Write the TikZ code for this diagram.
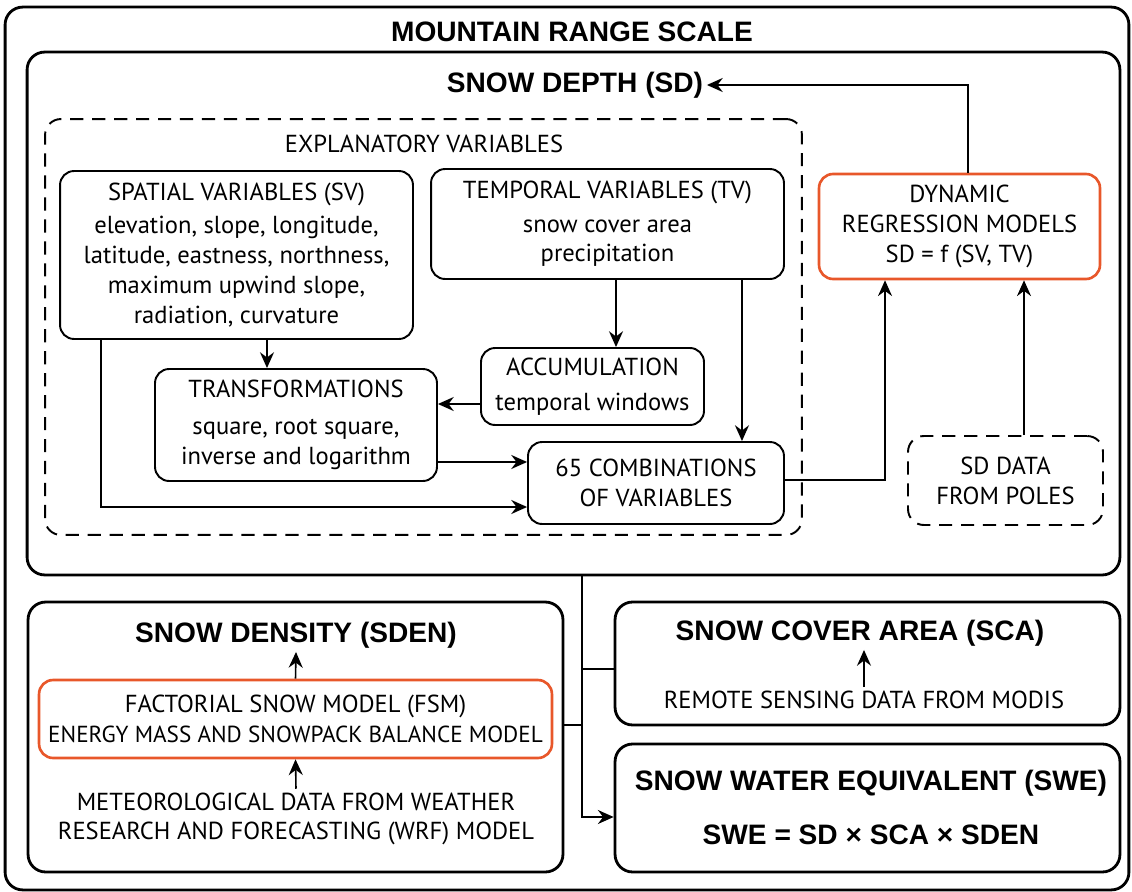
\documentclass[tikz,border=0pt]{standalone}
\usepackage{fontspec}
\setmainfont{PT Sans}
\newfontfamily\headfont{Liberation Sans}
\usetikzlibrary{arrows.meta, positioning, calc}
\definecolor{modelorange}{HTML}{E8572A}

\begin{document}
\begin{tikzpicture}[
  x=0.02cm, y=-0.02cm,
  every node/.style={font=\fontsize{14}{17}\selectfont, align=center, inner sep=2pt},
  frame/.style={draw, rounded corners=10pt, line width=1.6pt},
  varbox/.style={draw, rounded corners=8pt, line width=1.1pt},
  modelbox/.style={draw=modelorange, rounded corners=8pt, line width=1.5pt},
  databox/.style={draw, dash pattern=on 7.5pt off 5pt, rounded corners=9pt, line width=1.1pt},
  head/.style={font=\headfont\bfseries\fontsize{16}{19}\selectfont},
  arr/.style={-{Stealth[length=9pt, width=8pt, inset=3pt]}, line width=0.9pt},
  link/.style={line width=0.9pt},
]
\useasboundingbox (0,0) rectangle (1132,892);

% Frames and titles
\node[frame, minimum width=22.48cm, minimum height=17.66cm] (range) at (567, 448.5) {};
\node[head] (rangetitle) at (572, 32) {MOUNTAIN RANGE SCALE};
\node[frame, minimum width=21.86cm, minimum height=10.46cm] (sdbox) at (573.5, 313.5) {};
\node[head] (sdtitle) at (575, 85) {SNOW DEPTH (SD)};
\node[databox, minimum width=15.14cm, minimum height=8.32cm] (expl) at (423.5, 327) {};
\node (expltitle) at (424, 144) {EXPLANATORY VARIABLES};

% Snow depth
\node[varbox, minimum width=7.06cm, minimum height=3.36cm] (sv) at (236.5, 255) {SPATIAL VARIABLES (SV)\\[2pt] elevation, slope, longitude,\\ latitude, eastness, northness,\\ maximum upwind slope,\\ radiation, curvature};
\node[varbox, minimum width=7.06cm, minimum height=2.2cm] (tv) at (607.5, 224) {TEMPORAL VARIABLES (TV)\\[2pt] snow cover area\\ precipitation};
\node[varbox, minimum width=4.46cm, minimum height=1.54cm] (acc) at (592.5, 386.5) {ACCUMULATION\\[3pt] temporal windows};
\node[varbox, minimum width=5.64cm, minimum height=2.24cm] (trans) at (296, 425) {TRANSFORMATIONS\\[4pt] square, root square,\\ inverse and logarithm};
\node[varbox, minimum width=5.12cm, minimum height=1.64cm] (comb) at (656, 483) {65 COMBINATIONS\\ OF VARIABLES};
\node[modelbox, minimum width=5.62cm, minimum height=2.1cm] (dyn) at (959.5, 226.5) {DYNAMIC\\ REGRESSION MODELS\\ SD = f (SV, TV)};
\node[databox, minimum width=3.9cm, minimum height=1.78cm] (sddata) at (1005.5, 480.5) {SD DATA\\ FROM POLES};

\draw[arr] ([xshift=0.61cm]sv.south) -- ([xshift=0.61cm]sv.south |- trans.north);
\draw[arr] ([xshift=0.17cm]tv.south) -- ([xshift=0.17cm]tv.south |- acc.north);
\draw[arr] ([xshift=2.69cm]tv.south) -- ([xshift=2.69cm]tv.south |- comb.north);
\draw[arr] ([yshift=-0.35cm]acc.west) -- ([yshift=-0.35cm]acc.west -| trans.east);
\draw[arr] ([yshift=-0.74cm]trans.east) -- ([yshift=-0.74cm]trans.east -| comb.west);
\draw[arr] ([xshift=-2.71cm]sv.south) |- ([yshift=-0.48cm]comb.west);
\draw[arr] ([yshift=0.06cm]comb.east) -| ([xshift=-1.49cm]dyn.south);
\draw[arr] ([xshift=0.37cm]sddata.north) -- ([xshift=0.37cm]sddata.north |- dyn.south);
\draw[arr] ([xshift=0.17cm]dyn.north) |- (sdtitle.east);

% Snow density
\node[frame, minimum width=10.7cm, minimum height=5.4cm] (sden) at (295.5, 737) {};
\node[head] (sdentitle) at (296, 635) {SNOW DENSITY (SDEN)};
\node[modelbox, minimum width=10.26cm, minimum height=1.56cm] (fsm) at (295.5, 719) {FACTORIAL SNOW MODEL (FSM)\\ {\fontsize{13.2}{16}\selectfont ENERGY MASS AND SNOWPACK BALANCE MODEL}};
\node (wrf) at (296, 819) {METEOROLOGICAL DATA FROM WEATHER\\ RESEARCH AND FORECASTING (WRF) MODEL};
\draw[arr] (fsm.north) -- (sdentitle.south);
\draw[arr] (wrf.north) -- (fsm.south);

% Snow cover area
\node[frame, minimum width=10.1cm, minimum height=2.46cm] (sca) at (867.5, 663.5) {};
\node[head] (scatitle) at (860, 633) {SNOW COVER AREA (SCA)};
\node (modis) at (864, 700) {REMOTE SENSING DATA FROM MODIS};
\draw[arr] (modis.north) -- (modis.north |- scatitle.south);

% Snow water equivalent
\node[frame, minimum width=10.1cm, minimum height=2.56cm] (swe) at (867.5, 808) {};
\node[head] (swetitle) at (871, 783) {SNOW WATER EQUIVALENT (SWE)};
\node[head] (formula) at (871, 835) {SWE = SD × SCA × SDEN};

% Joining the parts
\coordinate (split) at ([xshift=0.17cm]sdbox.south);
\draw[arr] (split) |- ([yshift=-0.18cm]swe.west);
\draw[link] ([yshift=-0.11cm]sca.west) -- ([yshift=-0.11cm]sca.west -| split);
\draw[link] ([yshift=0.24cm]sden.east) -- ([yshift=0.24cm]sden.east -| split);

\end{tikzpicture}
\end{document}
